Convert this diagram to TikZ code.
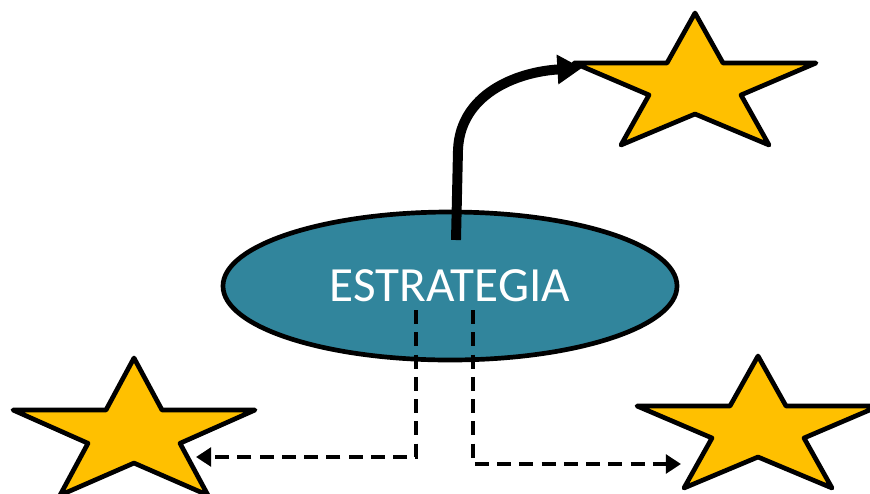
\documentclass[tikz,border=0pt]{standalone}
\usepackage{fontspec}
\setmainfont{Carlito}
\usetikzlibrary{shapes.geometric,arrows.meta}

\definecolor{azul}{HTML}{31859C}
\definecolor{oro}{HTML}{FFC000}

\tikzset{
  estrella/.style={draw=black,fill=oro,line width=4pt,line join=round},
  flecha/.style={line width=4pt,dash pattern=on 12pt off 7pt,-{Triangle[length=13pt,width=16pt]}}
}
\newcommand{\estrella}{(0,0) -- (28,50) -- (121,50) -- (46,82) -- (74,132) -- (0,101) -- (-74,132) -- (-46,82) -- (-121,50) -- (-28,50) -- cycle}

\begin{document}
\begin{tikzpicture}[x=0.03cm,y=-0.03cm]
\useasboundingbox (0,0) rectangle (870,493);

% las tres estrellas
\draw[estrella,shift={(695,13)}] \estrella;
\draw[estrella,shift={(134,358)},yscale=1.04] \estrella;
\draw[estrella,shift={(758,356)}] \estrella;

\node[ellipse,draw=black,line width=4pt,fill=azul,minimum width=13.62cm,minimum height=4.44cm,inner sep=0pt,text=white,font=\fontsize{42}{50}\selectfont] (estrategia) at (450,286) {ESTRATEGIA};

\coordinate (sal) at (456,240);
\coordinate (izq) at (416,310);
\coordinate (der) at (473,310);
\coordinate (arriba) at (582,68);
\coordinate (abizq) at (196,457);
\coordinate (abder) at (681,464);

\draw[line width=8.5pt,-{Triangle[length=21pt,width=24pt]}] (sal) -- (458,150) .. controls (460,95) and (515,72) .. (arriba);
\draw[flecha] (izq) |- (abizq);
\draw[flecha] (der) |- (abder);
\end{tikzpicture}
\end{document}
